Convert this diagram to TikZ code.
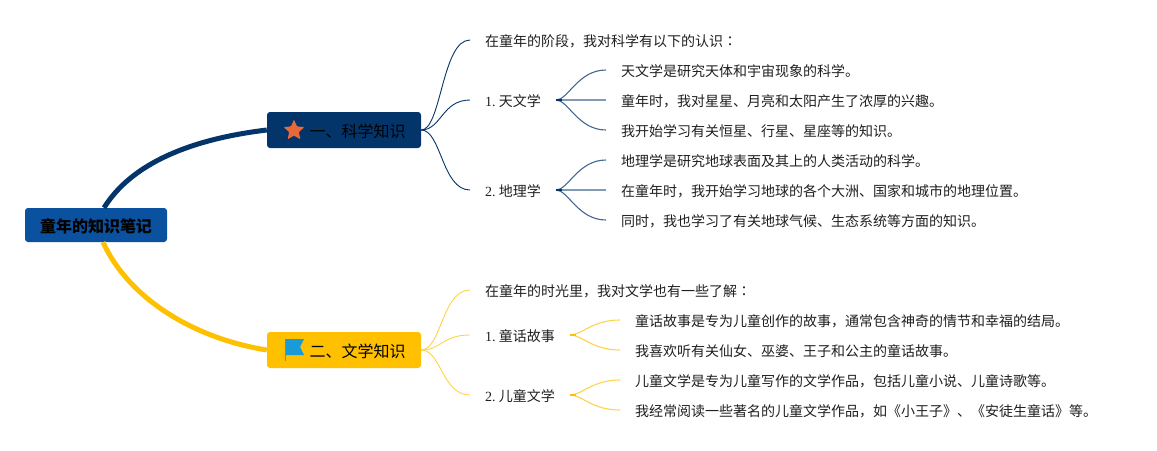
\documentclass[tikz,border=0pt]{standalone}
\usepackage{fontspec}
\setmainfont{Noto Sans CJK SC}
\newfontfamily\latn{Liberation Serif}
\newfontfamily\tcf{Noto Sans CJK TC}
\usetikzlibrary{shapes.geometric}
\definecolor{navy}{HTML}{03356B}
\definecolor{rootblue}{HTML}{0A519F}
\definecolor{gold}{HTML}{FFC000}
\definecolor{starorange}{HTML}{E8683A}
\definecolor{flagblue}{HTML}{1A9BD7}
\definecolor{flagpole}{HTML}{4E9E8E}
\tikzset{
  rootbox/.style={fill=rootblue,rounded corners=3pt,minimum width=142pt,minimum height=34pt,inner sep=0pt,text height=16pt,text depth=2pt,font=\fontsize{16}{18}\selectfont\bfseries},
  topic/.style={rounded corners=3pt,minimum width=154pt,minimum height=36pt,inner sep=0pt,text height=16pt,text depth=2pt,font=\fontsize{16}{18}\selectfont},
  leaf/.style={anchor=west,inner xsep=15pt,inner ysep=0pt,text height=14pt,text depth=2pt,text=black!88,font=\fontsize{14}{16}\selectfont},
  thick main/.style={line width=5pt},
  branch/.style={line width=0.9pt},
  twig/.style={line width=1.1pt},
  twig mid/.style={line width=2pt},
}
\newcommand{\num}[1]{{\latn #1}\hspace{3.2pt}}
\newcommand{\colonmark}{{\tcf ：}}
\begin{document}
\begin{tikzpicture}[x=1pt,y=-1pt]
\useasboundingbox (0,0) rectangle (1157,450);
% nodes
\node[rootbox] (root) at (96,225) {童年的知识笔记};
\node[topic,fill=navy] (sci) at (344,130) {\hspace*{27pt}一、科学知识};
\node[topic,fill=gold] (lit) at (344,350) {\hspace*{27pt}二、文学知识};
\node[star,star points=5,star point ratio=2.2,fill=starorange,inner sep=0pt,minimum size=22pt,rounded corners=1pt] (staricon) at (294,130.5) {};
\coordinate (flagicon) at (285,339);
% science
\node[leaf] (s0) at (470,40) {在童年的阶段，我对科学有以下的认识\colonmark};
\node[leaf] (s1) at (470,100) {\num{1.}天文学};
\node[leaf] (s2) at (470,190) {\num{2.}地理学};
\node[leaf] (s11) at (606,70) {天文学是研究天体和宇宙现象的科学。};
\node[leaf] (s12) at (606,100) {童年时，我对星星、月亮和太阳产生了浓厚的兴趣。};
\node[leaf] (s13) at (606,130) {我开始学习有关恒星、行星、星座等的知识。};
\node[leaf] (s21) at (606,160) {地理学是研究地球表面及其上的人类活动的科学。};
\node[leaf] (s22) at (606,190) {在童年时，我开始学习地球的各个大洲、国家和城市的地理位置。};
\node[leaf] (s23) at (606,220) {同时，我也学习了有关地球气候、生态系统等方面的知识。};
% literature
\node[leaf] (l0) at (470,290) {在童年的时光里，我对文学也有一些了解\colonmark};
\node[leaf] (l1) at (470,335) {\num{1.}童话故事};
\node[leaf] (l2) at (470,395) {\num{2.}儿童文学};
\node[leaf] (l11) at (620,320) {童话故事是专为儿童创作的故事，通常包含神奇的情节和幸福的结局。};
\node[leaf] (l12) at (620,350) {我喜欢听有关仙女、巫婆、王子和公主的童话故事。};
\node[leaf] (l21) at (620,380) {儿童文学是专为儿童写作的文学作品，包括儿童小说、儿童诗歌等。};
\node[leaf] (l22) at (620,410) {我经常阅读一些著名的儿童文学作品，如《小王子》、《安徒生童话》等。};
% flag
\fill[flagblue] (flagicon)++(0.5,0) -- ++(18.5,0) -- ++(-4,8) -- ++(4,8) -- ++(-18.5,0) -- cycle;
\draw[flagpole,line width=1pt] (285.5,339) -- (285.5,361);
% main connectors
\draw[navy,thick main] ([xshift=8pt]root.north) .. controls +(28,-45) and +(-75,9) .. (sci.west);
\draw[gold,thick main] ([xshift=7pt]root.south) .. controls +(25,55) and +(-75,-12) .. (lit.west);
% branches
\foreach \t in {s0,s1,s2}
  \draw[navy,branch] (sci.east) .. controls +(20,0) and +(-28,0) .. (\t.west);
\foreach \t in {l0,l1,l2}
  \draw[gold!70!white,branch] (lit.east) .. controls +(20,0) and +(-28,0) .. (\t.west);
% twigs
\foreach \f/\t in {s1/s11,s1/s13,s2/s21,s2/s23}
  \draw[navy!75!white,twig] (\f.east) .. controls +(12,0) and +(-28,0) .. (\t.west);
\foreach \f/\t in {s1/s12,s2/s22}
  \draw[navy!50!white,twig mid] (\f.east) -- (\t.west);
\foreach \f in {s1,s2}
  \draw[navy,line width=2pt] (\f.east) -- ++(6,0);
\foreach \f/\t in {l1/l11,l1/l12,l2/l21,l2/l22}
  \draw[gold!70!white,twig] (\f.east) .. controls +(12,0) and +(-28,0) .. (\t.west);
\foreach \f in {l1,l2}
  \draw[gold,line width=2pt] (\f.east) -- ++(6,0);
\end{tikzpicture}
\end{document}
